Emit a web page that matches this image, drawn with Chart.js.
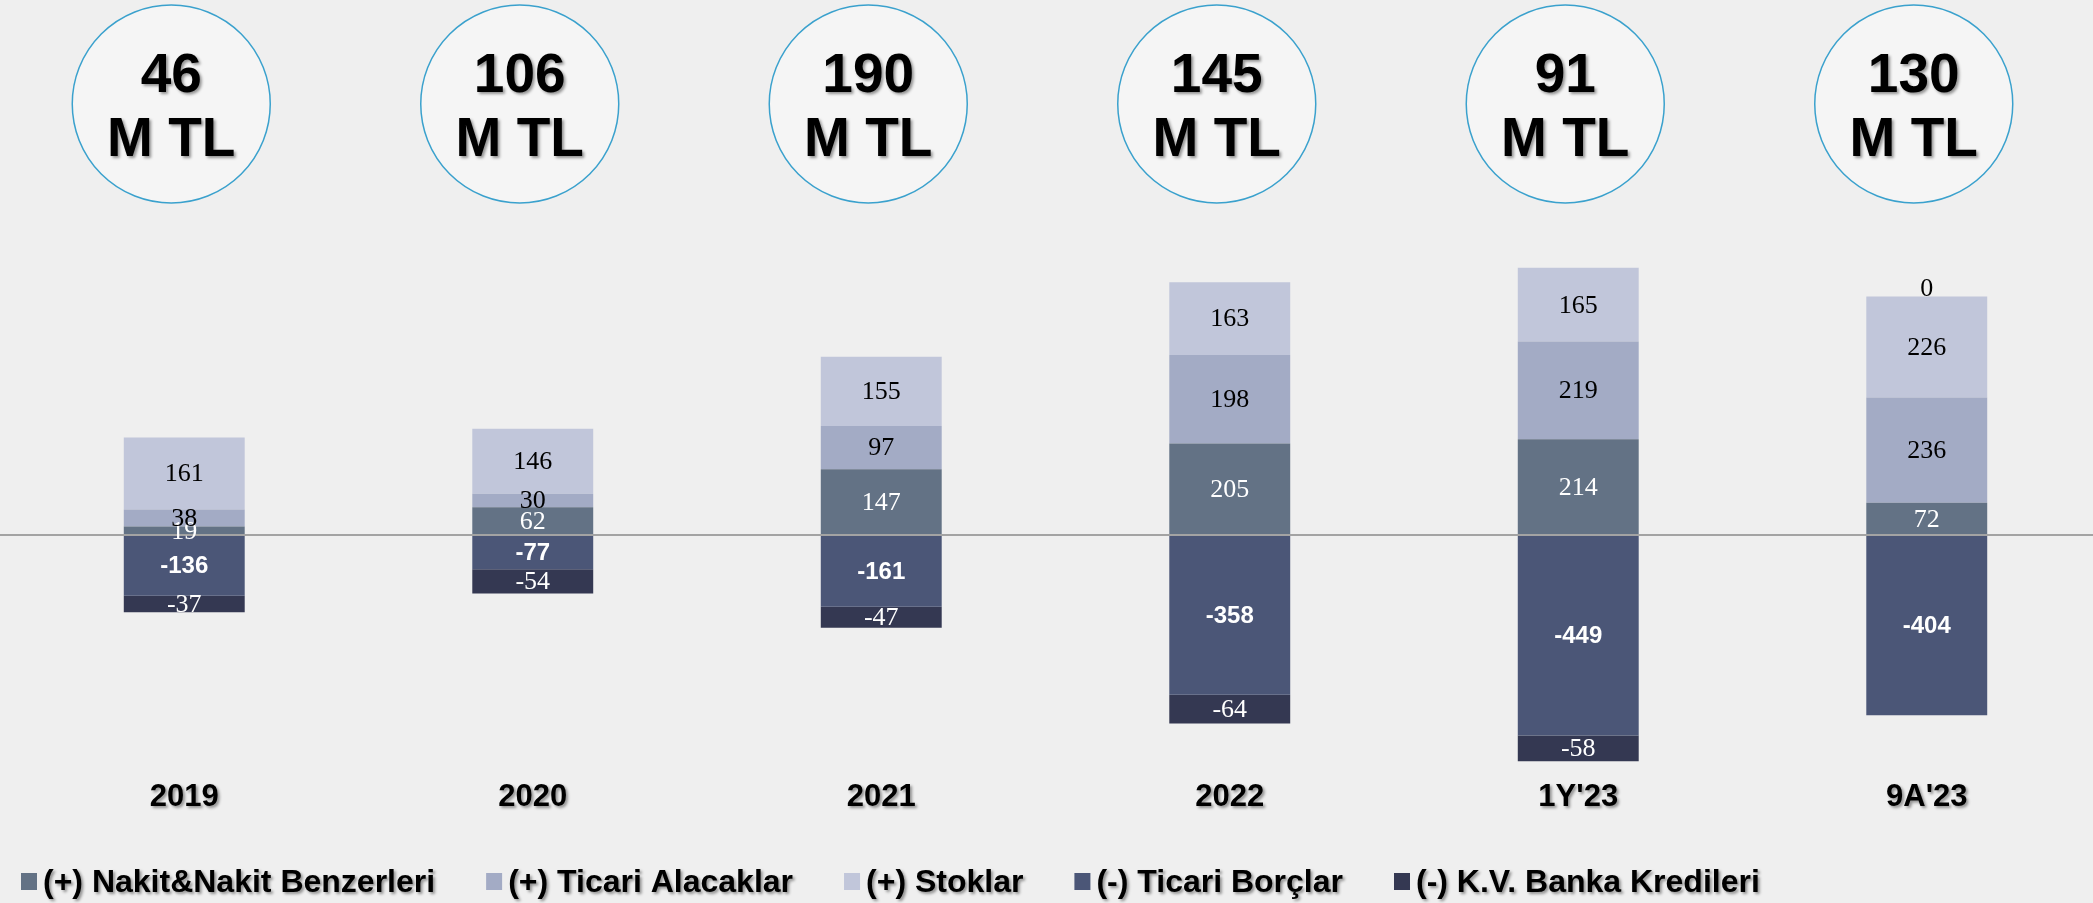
<!DOCTYPE html>
<html>
<head>
<meta charset="utf-8">
<script src="https://cdn.jsdelivr.net/npm/chart.js@4.4.0/dist/chart.umd.min.js"></script>
<style>
  html, body { margin: 0; padding: 0; background: #efefef; overflow: hidden; }
</style>
</head>
<body>
<canvas id="grafik" width="2101" height="903"></canvas>
<script>
// Kategoriler ve seriler
const kategoriler = ['2019', '2020', '2021', '2022', "1Y'23", "9A'23"];
const nakit = [19, 62, 147, 205, 214, 72];
const alacaklar = [38, 30, 97, 198, 219, 236];
const stoklar = [161, 146, 155, 163, 165, 226];
const borclar = [-136, -77, -161, -358, -449, -404];
const krediler = [-37, -54, -47, -64, -58, 0];
// Dairelerdeki net tutarlar
const netTutar = [46, 106, 190, 145, 91, 130];
const birim = 'M TL';

const serifFont = '26px "Liberation Serif", "Times New Roman", serif';
const kalinFont = 'bold 24px "Liberation Sans", Arial, sans-serif';

const golge = (ctx, acik) => {
    ctx.shadowColor = acik ? 'rgba(0,0,0,0.4)' : 'transparent';
    ctx.shadowBlur = acik ? 3 : 0;
    ctx.shadowOffsetX = acik ? 2 : 0;
    ctx.shadowOffsetY = acik ? 2 : 0;
};

// Eksen etiketlerine gölge
const etiketGolgesi = {
    id: 'etiketGolgesi',
    beforeDraw(chart) { golge(chart.ctx, true); },
    beforeDatasetsDraw(chart) { golge(chart.ctx, false); }
};

// Sıfır çizgisi
const sifirCizgisi = {
    id: 'sifirCizgisi',
    afterDatasetsDraw(chart) {
        const ctx = chart.ctx;
        const y0 = chart.scales.y.getPixelForValue(0);
        ctx.save();
        ctx.strokeStyle = '#a3a3a3';
        ctx.lineWidth = 2;
        ctx.beginPath();
        ctx.moveTo(0, y0);
        ctx.lineTo(chart.width, y0);
        ctx.stroke();
        ctx.restore();
    }
};

// Değer etiketleri
const degerEtiketleri = {
    id: 'degerEtiketleri',
    afterDatasetsDraw(chart) {
        const ctx = chart.ctx;
        const yEks = chart.scales.y;
        ctx.save();
        ctx.textAlign = 'center';
        ctx.textBaseline = 'middle';
        chart.data.datasets.forEach((ds, di) => {
            const meta = chart.getDatasetMeta(di);
            meta.data.forEach((bar, i) => {
                const v = ds.data[i];
                let py;
                if (v === 0) {
                    const ust = nakit[i] + alacaklar[i] + stoklar[i];
                    py = yEks.getPixelForValue(ust) - 8;
                    ctx.fillStyle = '#000';
                } else {
                    py = (bar.y + bar.base) / 2;
                    ctx.fillStyle = ds.etiketRengi;
                }
                ctx.font = ds.etiketFontu;
                ctx.fillText(String(v), bar.x, py + 1);
            });
        });
        ctx.restore();
    }
};

// Üstteki daireler
const daireler = {
    id: 'daireler',
    afterDraw(chart) {
        const ctx = chart.ctx;
        const xEks = chart.scales.x;
        ctx.save();
        netTutar.forEach((v, i) => {
            const cx = xEks.getPixelForValue(i) - 13;
            const cy = 104;
            golge(ctx, false);
            ctx.beginPath();
            ctx.arc(cx, cy, 99, 0, Math.PI * 2);
            ctx.fillStyle = '#f5f5f5';
            ctx.fill();
            ctx.lineWidth = 1.5;
            ctx.strokeStyle = '#3aa1cd';
            ctx.stroke();
            golge(ctx, true);
            ctx.fillStyle = '#000';
            ctx.font = 'bold 55px "Liberation Sans", Arial, sans-serif';
            ctx.textAlign = 'center';
            ctx.textBaseline = 'middle';
            ctx.fillText(String(v), cx, cy - 27);
            ctx.fillText(birim, cx, cy + 37);
        });
        ctx.restore();
    }
};

// Alt lejant
const lejant = {
    id: 'lejant',
    afterDraw(chart) {
        const ctx = chart.ctx;
        ctx.save();
        ctx.font = 'bold 32px "Liberation Sans", Arial, sans-serif';
        ctx.textBaseline = 'middle';
        ctx.textAlign = 'left';
        let lx = 21;
        const ly = chart.height - 22;
        chart.data.datasets.forEach(ds => {
            golge(ctx, false);
            ctx.fillStyle = ds.backgroundColor;
            ctx.fillRect(lx, ly - 8, 16, 17);
            golge(ctx, true);
            ctx.fillStyle = '#000';
            ctx.fillText(ds.label, lx + 22, ly + 2);
            lx += 22 + ctx.measureText(ds.label).width + 51;
        });
        ctx.restore();
    }
};

const seri = (label, data, renk, etiketRengi, etiketFontu) => ({
    label, data,
    backgroundColor: renk,
    borderWidth: 0,
    barPercentage: 0.347,
    categoryPercentage: 1,
    etiketRengi, etiketFontu
});

const grafik = new Chart(document.getElementById('grafik'), {
    type: 'bar',
    data: {
        labels: kategoriler,
        datasets: [
            seri('(+) Nakit&Nakit Benzerleri', nakit, '#637285', '#fff', serifFont),
            seri('(+) Ticari Alacaklar', alacaklar, '#a3abc5', '#000', serifFont),
            seri('(+) Stoklar', stoklar, '#c1c6da', '#000', serifFont),
            seri('(-) Ticari Borçlar', borclar, '#4b5677', '#fff', kalinFont),
            seri('(-) K.V. Banka Kredileri', krediler, '#343852', '#fff', serifFont)
        ]
    },
    options: {
        responsive: false,
        animation: false,
        layout: { padding: { left: 10, right: 0, top: 0, bottom: 81 } },
        plugins: {
            legend: { display: false },
            tooltip: { enabled: false }
        },
        scales: {
            x: {
                stacked: true,
                grid: { display: false, drawTicks: false },
                border: { display: false },
                ticks: {
                    color: '#000',
                    padding: 6,
                    font: { family: '"Liberation Sans", Arial, sans-serif', size: 31, weight: 'bold' }
                }
            },
            y: {
                stacked: true,
                display: false,
                min: -532.6,
                max: 1197.8
            }
        }
    },
    plugins: [etiketGolgesi, sifirCizgisi, degerEtiketleri, daireler, lejant]
});
</script>
</body>
</html>
